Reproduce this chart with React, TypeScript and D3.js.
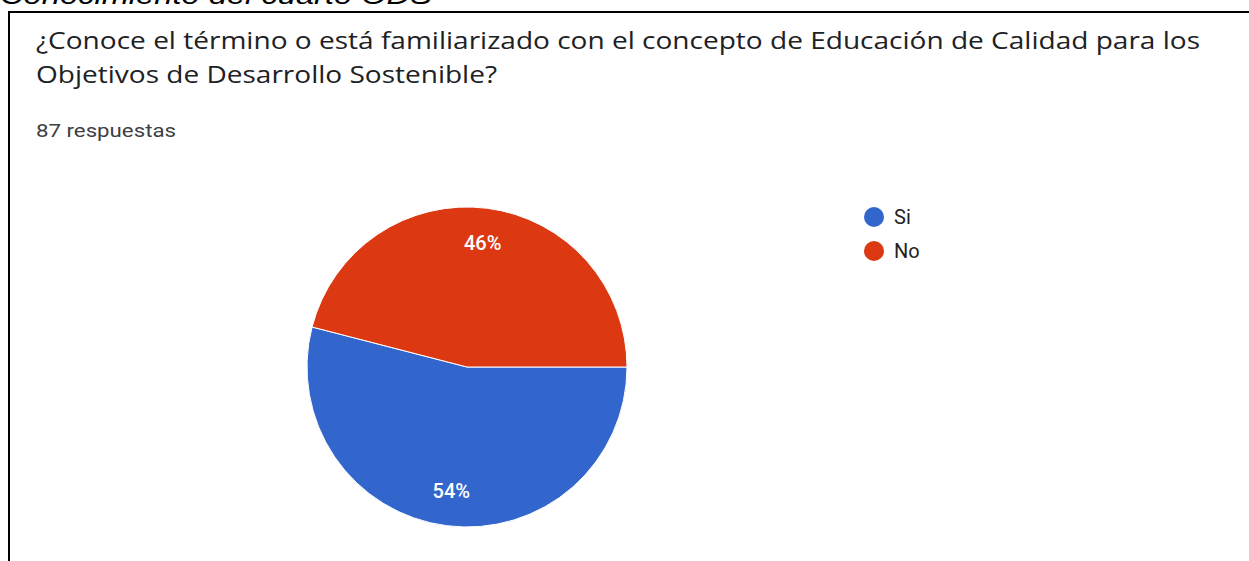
import React from "react";
import * as d3 from "d3";

const categories = ["Si", "No"];
const counts = [47, 40];
const colors = ["#3366cc", "#dc3912"];
const titleLines = [
  "¿Conoce el término o está familiarizado con el concepto de Educación de Calidad para los",
  "Objetivos de Desarrollo Sostenible?",
];
const subtitle = "87 respuestas";
const heading = "Conocimiento del cuarto ODS";

export default function App() {
  const W = 1249, H = 561;
  const cx = 467, cy = 367, r = 160;
  const total = d3.sum(counts);
  const pie = d3
    .pie<number>()
    .sort(null)
    .startAngle(Math.PI / 2)
    .endAngle(Math.PI / 2 + 2 * Math.PI);
  const arcs = pie(counts);
  const arc = d3.arc<d3.PieArcDatum<number>>().innerRadius(0).outerRadius(r);
  const labelArc = d3.arc<d3.PieArcDatum<number>>().innerRadius(r * 0.78).outerRadius(r * 0.78);
  const fmt = d3.format(".0%");
  const legendY = d3.scalePoint<string>().domain(categories).range([217, 251]);

  return (
    <svg width={W} height={H} style={{ position: "absolute", left: 0, top: 0, display: "block" }}>
      <rect x={0} y={0} width={W} height={H} fill="#fff" />
      <text x={0} y={4} fontFamily="Liberation Sans, Arial, sans-serif" fontStyle="italic" fontSize={26} fill="#000" textLength={432} lengthAdjust="spacingAndGlyphs">
        {heading}
      </text>
      <line x1={9} y1={12} x2={W} y2={12} stroke="#000" strokeWidth={2} />
      <line x1={9} y1={11} x2={9} y2={H} stroke="#000" strokeWidth={2} />
      <text x={36} y={49} fontFamily="Open Sans, Roboto, sans-serif" fontSize={23} fill="#202124" textLength={1164} lengthAdjust="spacingAndGlyphs">
        {titleLines[0]}
      </text>
      <text x={36} y={83} fontFamily="Open Sans, Roboto, sans-serif" fontSize={23} fill="#202124" textLength={461} lengthAdjust="spacingAndGlyphs">
        {titleLines[1]}
      </text>
      <text x={36} y={137} fontFamily="Roboto, sans-serif" fontSize={19} fill="#3c4043" textLength={140} lengthAdjust="spacingAndGlyphs">
        {subtitle}
      </text>
      <g transform={`translate(${cx},${cy})`}>
        {arcs.map((a, i) => (
          <path key={categories[i]} d={arc(a) || ""} fill={colors[i]} stroke="#fff" strokeWidth={1} />
        ))}
        {arcs.map((a, i) => {
          const [x, y] = labelArc.centroid(a);
          return (
            <text key={"l" + i} x={x} y={y} dy="0.36em" textAnchor="middle" fontFamily="Roboto, sans-serif" fontWeight={500} fontSize={20} fill="#fff">
              {fmt(counts[i] / total)}
            </text>
          );
        })}
      </g>
      {categories.map((c, i) => (
        <g key={c}>
          <circle cx={874} cy={legendY(c)!} r={10} fill={colors[i]} />
          <text x={894} y={legendY(c)!} dy="0.36em" fontFamily="Roboto, sans-serif" fontSize={20} fill="#222">
            {c}
          </text>
        </g>
      ))}
    </svg>
  );
}
